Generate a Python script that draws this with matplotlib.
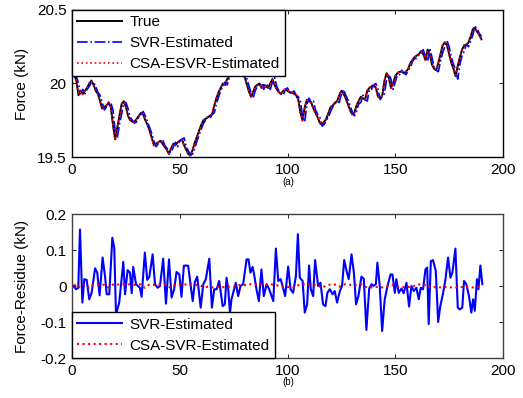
import numpy as np
import matplotlib
matplotlib.use("Agg")
import matplotlib.pyplot as plt

plt.rcParams['font.family'] = ['Liberation Sans', 'DejaVu Sans']

# ---- data ----
true_force = [
    20.06, 20.02, 19.92, 19.95, 19.93, 19.95, 19.97, 20.00, 20.02, 19.99,
    19.95, 19.93, 19.88, 19.83, 19.84, 19.85, 19.87, 19.84, 19.72, 19.62,
    19.70, 19.78, 19.86, 19.88, 19.84, 19.78, 19.75, 19.74, 19.74, 19.76,
    19.78, 19.80, 19.79, 19.75, 19.72, 19.68, 19.63, 19.58, 19.59, 19.60,
    19.61, 19.59, 19.57, 19.55, 19.52, 19.56, 19.59, 19.58, 19.60, 19.61,
    19.62, 19.58, 19.55, 19.52, 19.51, 19.55, 19.60, 19.64, 19.68, 19.72,
    19.75, 19.76, 19.77, 19.78, 19.79, 19.85, 19.90, 19.94, 19.97, 20.00,
    19.99, 20.03, 20.05, 20.08, 20.10, 20.12, 20.13, 20.11, 20.08, 20.05,
    20.00, 19.95, 19.91, 19.94, 19.98, 19.99, 20.00, 19.97, 19.99, 19.98,
    19.97, 20.00, 20.03, 19.99, 19.96, 19.94, 19.93, 19.95, 19.96, 19.95,
    19.94, 19.94, 19.93, 19.92, 19.89, 19.80, 19.75, 19.84, 19.89, 19.88,
    19.87, 19.83, 19.80, 19.77, 19.73, 19.72, 19.74, 19.76, 19.80, 19.84,
    19.85, 19.87, 19.88, 19.92, 19.95, 19.93, 19.90, 19.86, 19.82, 19.79,
    19.80, 19.85, 19.88, 19.91, 19.90, 19.89, 19.95, 19.97, 19.98, 19.99,
    19.97, 19.91, 19.90, 19.92, 20.02, 20.07, 20.04, 19.97, 20.00, 20.05,
    20.07, 20.08, 20.08, 20.07, 20.08, 20.10, 20.14, 20.16, 20.18, 20.19,
    20.20, 20.22, 20.20, 20.16, 20.23, 20.20, 20.13, 20.10, 20.09, 20.14,
    20.20, 20.26, 20.28, 20.26, 20.20, 20.14, 20.10, 20.05, 20.12, 20.18,
    20.23, 20.26, 20.26, 20.28, 20.32, 20.37, 20.38, 20.35, 20.33, 20.30,
]

svr_force = [
    20.07, 20.05, 20.00, 19.93, 19.96, 19.93, 19.96, 19.98, 20.01, 20.01,
    19.98, 19.94, 19.92, 19.87, 19.82, 19.84, 19.86, 19.87, 19.82, 19.68,
    19.63, 19.72, 19.79, 19.87, 19.87, 19.83, 19.77, 19.75, 19.73, 19.74,
    19.77, 19.79, 19.81, 19.78, 19.74, 19.70, 19.66, 19.61, 19.57, 19.59,
    19.60, 19.62, 19.58, 19.56, 19.54, 19.53, 19.57, 19.60, 19.57, 19.61,
    19.62, 19.63, 19.57, 19.54, 19.52, 19.52, 19.56, 19.61, 19.65, 19.69,
    19.73, 19.75, 19.77, 19.76, 19.79, 19.80, 19.86, 19.91, 19.95, 19.98,
    20.01, 19.99, 20.04, 20.06, 20.09, 20.11, 20.13, 20.13, 20.10, 20.07,
    20.04, 19.99, 19.94, 19.90, 19.95, 19.98, 19.99, 20.00, 19.96, 20.00,
    19.98, 19.96, 20.01, 20.04, 19.98, 19.95, 19.93, 19.92, 19.96, 19.97,
    19.94, 19.93, 19.95, 19.92, 19.91, 19.88, 19.77, 19.74, 19.86, 19.90,
    19.87, 19.88, 19.82, 19.79, 19.77, 19.71, 19.72, 19.75, 19.77, 19.81,
    19.84, 19.86, 19.88, 19.87, 19.93, 19.96, 19.92, 19.89, 19.85, 19.81,
    19.78, 19.81, 19.86, 19.87, 19.92, 19.89, 19.88, 19.96, 19.96, 19.99,
    20.00, 19.96, 19.89, 19.91, 19.93, 20.03, 20.06, 20.03, 19.96, 20.01,
    20.06, 20.06, 20.09, 20.07, 20.06, 20.09, 20.11, 20.15, 20.17, 20.17,
    20.20, 20.21, 20.23, 20.18, 20.15, 20.24, 20.18, 20.11, 20.09, 20.08,
    20.15, 20.21, 20.25, 20.29, 20.25, 20.18, 20.13, 20.09, 20.03, 20.13,
    20.19, 20.22, 20.27, 20.25, 20.29, 20.33, 20.39, 20.37, 20.34, 20.32,
]

# residual of the CSA model (small, red dotted in panel b)
csa_res = [
    0.004, 0.0, -0.005, 0.003, 0.005, 0.003, -0.002, -0.004, 0.002, 0.004,
    0.004, 0.003, 0.002, 0.004, 0.003, -0.003, -0.004, 0.001, 0.004, 0.005,
    0.004, 0.004, 0.005, 0.004, 0.005, 0.004, 0.005, 0.004, 0.003, 0.004,
    0.005, 0.004, -0.003, -0.005, 0.002, 0.004, 0.004, 0.003, 0.004, 0.003,
    0.004, 0.003, 0.004, 0.001, -0.003, -0.004, 0.001, 0.003, 0.004, 0.005,
    0.004, 0.005, 0.004, 0.003, 0.004, 0.005, 0.004, 0.003, 0.002, 0.0,
    -0.002, -0.003, -0.002, -0.003, -0.004, -0.003, -0.002, -0.003, -0.004, -0.003,
    -0.004, -0.003, -0.002, -0.003, -0.002, 0.0, 0.002, 0.003, 0.004, 0.003,
    0.002, 0.004, 0.005, 0.004, 0.003, 0.005, 0.004, 0.005, 0.004, 0.003,
    0.004, 0.005, 0.004, 0.003, 0.002, 0.0, -0.002, -0.003, -0.002, -0.003,
    -0.003, -0.002, -0.004, -0.003, 0.002, 0.004, 0.005, 0.004, 0.003, 0.004,
    0.005, 0.004, 0.003, 0.004, -0.002, -0.004, -0.002, 0.002, 0.003, 0.004,
    0.003, 0.004, 0.002, -0.002, 0.003, 0.004, 0.005, 0.004, 0.003, 0.004,
    0.004, 0.003, 0.004, 0.005, 0.002, -0.002, -0.004, -0.003, -0.004, -0.002,
    -0.003, -0.002, -0.003, -0.004, -0.003, -0.002, 0.001, 0.003, 0.002, 0.0,
    -0.002, -0.003, -0.004, -0.003, -0.004, -0.003, -0.002, -0.003, 0.001, 0.003,
    0.004, 0.005, 0.004, 0.003, 0.004, -0.002, -0.004, -0.003, -0.004, -0.003,
    -0.004, -0.003, -0.002, -0.004, -0.003, -0.004, -0.003, -0.004, -0.003, -0.002,
    -0.003, -0.004, -0.003, -0.004, -0.003, -0.004, -0.003, -0.002, -0.003, -0.004,
]

# residual of the SVR model (blue solid in panel b)
svr_res_x = [
    0.6, 1.9, 2.9, 3.7, 4.8, 5.7, 6.8, 8.0, 9.1, 10.7, 11.7, 12.8, 14.2, 15.3,
    16.1, 17.3, 18.7, 19.6, 20.4, 21.9, 23.8, 24.6, 25.8, 26.9, 27.7, 28.4,
    29.7, 31.5, 32.3, 33.8, 34.9, 35.9, 37.4, 38.5, 39.7, 40.8, 42.3, 43.6,
    45.0, 46.2, 47.4, 48.5, 49.8, 50.8, 51.9, 52.9, 53.9, 56.0, 57.0, 58.1,
    59.7, 60.9, 62.1, 63.7, 64.9, 66.0, 67.1, 68.3, 69.9, 70.9, 71.7, 72.5,
    73.3, 74.0, 74.8, 76.0, 77.1, 78.2, 79.4, 81.0, 81.9, 82.8, 83.8, 84.5,
    85.6, 86.7, 87.9, 89.0, 90.3, 91.5, 93.4, 94.6, 95.7, 96.8, 97.7, 98.9,
    100.3, 101.4, 102.6, 103.9, 104.8, 105.7, 107.0, 108.0, 109.1, 110.0,
    110.8, 111.9, 112.8, 114.2, 115.3, 116.5, 117.6, 118.5, 119.6, 120.9,
    121.9, 123.0, 124.3, 125.3, 126.3, 127.4, 128.4, 129.7, 130.8, 131.8,
    132.9, 134.3, 135.4, 136.6, 137.9, 139.0, 139.8, 141.0, 141.7, 142.8,
    143.9, 145.1, 146.4, 147.8, 148.7, 149.8, 150.5, 151.6, 152.9, 153.9,
    155.2, 156.4, 157.5, 158.6, 159.8, 160.9, 161.8, 162.9, 164.0, 164.8,
    165.5, 166.5, 167.5, 168.8, 169.9, 170.9, 172.2, 173.3, 174.5, 175.6,
    176.5, 177.9, 179.0, 179.9, 181.1, 181.9, 183.0, 184.2, 185.3, 186.1,
    186.9, 187.9, 188.6, 189.5, 190.4,
]
svr_res = [
    0.0, -0.009, -0.005, 0.157, -0.046, 0.019, 0.017, -0.037, -0.019, 0.049,
    0.037, -0.026, 0.079, 0.028, -0.023, -0.023, 0.134, 0.106, -0.079, -0.046,
    0.067, -0.023, 0.044, 0.037, -0.020, 0.053, 0.005, -0.005, -0.030, 0.093,
    0.017, 0.026, 0.088, 0.005, -0.005, 0.0, 0.076, -0.049, 0.074, -0.032,
    -0.009, 0.039, 0.032, -0.030, 0.056, 0.057, 0.056, -0.042, 0.011, 0.026,
    -0.060, 0.005, 0.019, 0.076, -0.060, -0.009, -0.009, 0.014, -0.056, -0.051,
    0.023, -0.009, -0.074, -0.037, -0.019, 0.009, -0.028, 0.0, 0.005, 0.074,
    0.074, 0.037, 0.053, 0.032, -0.009, -0.042, 0.046, -0.028, 0.005, -0.009,
    -0.042, 0.104, 0.014, 0.019, 0.0, -0.028, 0.054, -0.009, -0.019, 0.028,
    0.144, 0.023, 0.014, -0.074, -0.051, 0.057, -0.009, -0.028, 0.072, 0.0,
    0.009, -0.051, -0.056, -0.019, -0.009, -0.023, -0.014, -0.046, -0.014, 0.0,
    0.072, 0.042, 0.019, 0.088, 0.037, -0.051, -0.028, 0.026, 0.020, -0.122,
    -0.007, 0.005, 0.0, 0.005, 0.065, 0.0, -0.125, -0.037, 0.0, 0.032,
    0.032, -0.019, 0.019, -0.019, -0.007, -0.020, 0.009, -0.057, 0.0, -0.014,
    -0.005, -0.037, -0.005, -0.009, 0.046, 0.051, -0.106, 0.069, 0.072, 0.042,
    -0.100, -0.056, -0.019, 0.019, 0.079, 0.023, 0.037, 0.104, -0.060, -0.065,
    -0.060, 0.014, 0.005, -0.028, -0.074, -0.037, -0.069, 0.019, -0.009, 0.057,
    0.005,
]

x_ticks = [0, 50, 100, 150, 200]

# ---- figure ----
samples = np.arange(1, len(true_force) + 1)
csa_force = np.array(true_force) - np.array(csa_res)

fig = plt.figure(figsize=(5.23, 3.98), dpi=100)
ax1 = fig.add_axes([0.1377, 0.6055, 0.8241, 0.3695])
ax2 = fig.add_axes([0.1377, 0.1005, 0.8241, 0.3618])

ax1.plot(samples, true_force, color='black', lw=1.4, label='True')
ax1.plot(samples, svr_force, color='blue', lw=1.2, ls='-.', label='SVR-Estimated')
ax1.plot(samples, csa_force, color='red', lw=1.2, ls=':', label='CSA-ESVR-Estimated')
ax1.set_xlim(0, 200)
ax1.set_ylim(19.5, 20.5)
ax1.set_yticks([19.5, 20, 20.5])
ax1.set_yticklabels(['19.5', '20', '20.5'])
ax1.set_ylabel('Force (kN)', fontsize=11)

ax2.plot(svr_res_x, svr_res, color='blue', lw=1.5, label='SVR-Estimated')
ax2.plot(samples, csa_res, color='red', lw=1.5, ls=':', label='CSA-SVR-Estimated')
ax2.set_xlim(0, 200)
ax2.set_ylim(-0.2, 0.2)
ax2.set_yticks([-0.2, -0.1, 0, 0.1, 0.2])
ax2.set_yticklabels(['-0.2', '-0.1', '0', '0.1', '0.2'])
ax2.set_ylabel('Force-Residue (kN)', fontsize=11)

for ax in (ax1, ax2):
    ax.set_xticks(x_ticks)
    ax.tick_params(direction='in', length=3, width=0.6, top=True, right=True,
                   labelsize=11)
    ax.tick_params(axis='x', pad=4)
    ax.tick_params(axis='y', pad=4)
    for sp in ax.spines.values():
        sp.set_linewidth(1.0)
    ax.yaxis.set_label_coords(-0.1, 0.5)

for sp in ax2.spines.values():
    sp.set_linestyle((0, (1, 1)))
    sp.set_color('0.25')

leg_kw = dict(fancybox=False, edgecolor='black', framealpha=1, fontsize=11,
              borderaxespad=0, handlelength=2.9, handletextpad=0.5,
              labelspacing=0.45, borderpad=0.35)
l1 = ax1.legend(loc='upper left', **leg_kw)
l1.get_frame().set_linewidth(1.0)
l2 = ax2.legend(loc='lower left', **leg_kw)
l2.get_frame().set_linewidth(1.0)

fig.text(0.551, 0.543, '(a)', fontsize=7, ha='center', va='center')
fig.text(0.551, 0.04, '(b)', fontsize=7, ha='center', va='center')

fig.savefig('out.png', dpi=100)
